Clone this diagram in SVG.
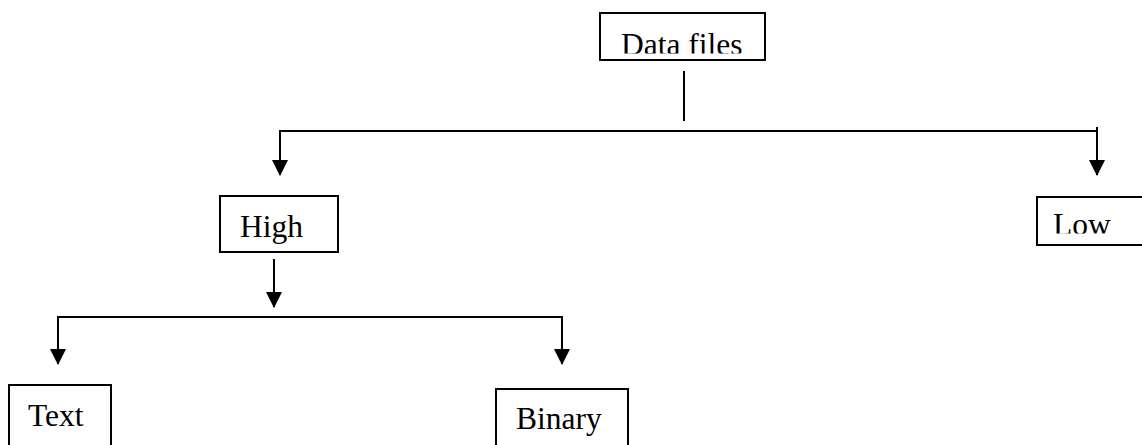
<svg xmlns="http://www.w3.org/2000/svg" width="1142" height="445" viewBox="0 0 1142 445">
<style>
.box{fill:#fff;stroke:#000;stroke-width:2}
.lbl{font-family:"Liberation Serif","Times New Roman",serif;font-size:31.5px;fill:#000}
.ln{stroke:#000;stroke-width:2;fill:none}
</style>
<defs>
<marker id="ah" markerUnits="userSpaceOnUse" markerWidth="16" markerHeight="16" viewBox="0 0 16 16" refX="15" refY="8" orient="auto">
<path d="M0,0 L16,8 L0,16 Z" fill="#000"/>
</marker>
<clipPath id="cData"><rect x="600" y="14" width="165" height="39.5"/></clipPath>
<clipPath id="cLow"><rect x="1037" y="197" width="105" height="36.5"/></clipPath>
</defs>
<rect width="1142" height="445" fill="#fff"/>
<g id="connectors">
<line class="ln" x1="684" y1="71" x2="684" y2="121"/>
<line class="ln" x1="280" y1="131" x2="1097" y2="131"/>
<line class="ln" x1="280" y1="130" x2="280" y2="175" marker-end="url(#ah)"/>
<line class="ln" x1="1097" y1="127" x2="1097" y2="175" marker-end="url(#ah)"/>
<line class="ln" x1="274" y1="259" x2="274" y2="307" marker-end="url(#ah)"/>
<line class="ln" x1="58" y1="317" x2="563" y2="317"/>
<line class="ln" x1="58" y1="316" x2="58" y2="364" marker-end="url(#ah)"/>
<line class="ln" x1="562" y1="316" x2="562" y2="364" marker-end="url(#ah)"/>
</g>
<g id="node-datafiles">
<rect class="box" x="600" y="13" width="165" height="47"/>
<text class="lbl" x="621" y="54.5" clip-path="url(#cData)">Data files</text>
</g>
<g id="node-high">
<rect class="box" x="220" y="196" width="118" height="56"/>
<text class="lbl" x="240" y="237">High</text>
</g>
<g id="node-low">
<rect class="box" x="1037" y="197" width="106" height="48"/>
<text class="lbl" x="1053" y="235" clip-path="url(#cLow)">Low</text>
</g>
<g id="node-text">
<rect class="box" x="9" y="385" width="102" height="70"/>
<text class="lbl" x="28" y="426">Text</text>
</g>
<g id="node-binary">
<rect class="box" x="496" y="389" width="132" height="66"/>
<text class="lbl" x="516" y="429">Binary</text>
</g>
</svg>
